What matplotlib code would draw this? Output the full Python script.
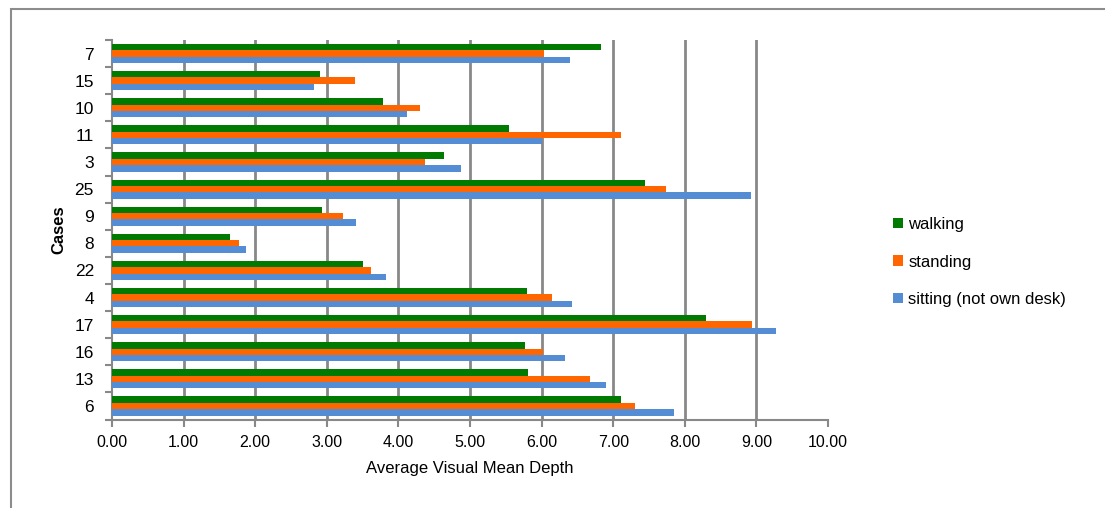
import matplotlib.pyplot as plt
import numpy as np
from matplotlib.patches import Rectangle

plt.rcParams["font.family"] = ["Liberation Sans", "DejaVu Sans"]

# cases listed bottom to top
cases = ["6", "13", "16", "17", "4", "22", "8", "9", "25", "3", "11", "10", "15", "7"]
walking = [7.11, 5.81, 5.77, 8.29, 5.79, 3.50, 1.65, 2.93, 7.44, 4.63, 5.54, 3.79, 2.91, 6.83]
standing = [7.31, 6.68, 6.02, 8.94, 6.15, 3.62, 1.78, 3.23, 7.74, 4.37, 7.11, 4.30, 3.39, 6.04]
sitting = [7.85, 6.90, 6.32, 9.28, 6.43, 3.82, 1.87, 3.41, 8.92, 4.88, 6.01, 4.12, 2.82, 6.40]

GREEN = "#007A00"
ORANGE = "#FF6600"
BLUE = "#548DD4"
GRID = "#888888"

fig = plt.figure(figsize=(11.05, 5.08), dpi=100)
ax = fig.add_axes([112 / 1105, 1 - 419.5 / 508, 716 / 1105, 379.5 / 508])

# frame round the chart area (only left and top show in the picture)
fig.patches.append(Rectangle((11 / 1105, -0.1), 1.2, 1.1 - 9 / 508, transform=fig.transFigure,
                             fill=False, edgecolor="#8c8c8c", linewidth=1.5))

y = np.arange(len(cases))
h = 0.235
ax.barh(y + h, walking, height=h, color=GREEN, label="walking", zorder=3)
ax.barh(y, standing, height=h, color=ORANGE, label="standing", zorder=3)
ax.barh(y - h, sitting, height=h, color=BLUE, label="sitting (not own desk)", zorder=3)

# vertical gridlines at 1..9, none at the right end
for gx in range(1, 10):
    ax.axvline(gx, color=GRID, linewidth=2, zorder=0)

ax.set_xlim(0, 10)
ax.set_ylim(-0.5, len(cases) - 0.5)
ax.set_xticks(np.arange(0, 10.01, 1))
ax.set_xticklabels([f"{v:.2f}" for v in np.arange(0, 10.01, 1)], fontsize=11.5)
ax.set_yticks(y)
ax.set_yticklabels(cases, fontsize=12.5)
ax.set_yticks(np.arange(-0.5, len(cases), 1), minor=True)
ax.tick_params(axis="y", which="major", length=0, pad=13)
ax.tick_params(axis="y", which="minor", length=5, width=1.5, color=GRID, direction="out")
ax.tick_params(axis="x", which="major", length=5, width=1.5, color=GRID, direction="out", pad=6)

for side in ["top", "right"]:
    ax.spines[side].set_visible(False)
for side in ["left", "bottom"]:
    ax.spines[side].set_color(GRID)
    ax.spines[side].set_linewidth(1.5)

ax.set_xlabel("Average Visual Mean Depth", fontsize=12, labelpad=8)
ax.set_ylabel("Cases", fontsize=12, fontweight="bold", labelpad=6)

ax.legend(loc="center left", bbox_to_anchor=(1.07, 0.415), frameon=False, fontsize=12,
          handlelength=0.6, handleheight=0.6, handletextpad=0.3, labelspacing=1.35)

plt.savefig("out.png", dpi=100)
plt.close()
